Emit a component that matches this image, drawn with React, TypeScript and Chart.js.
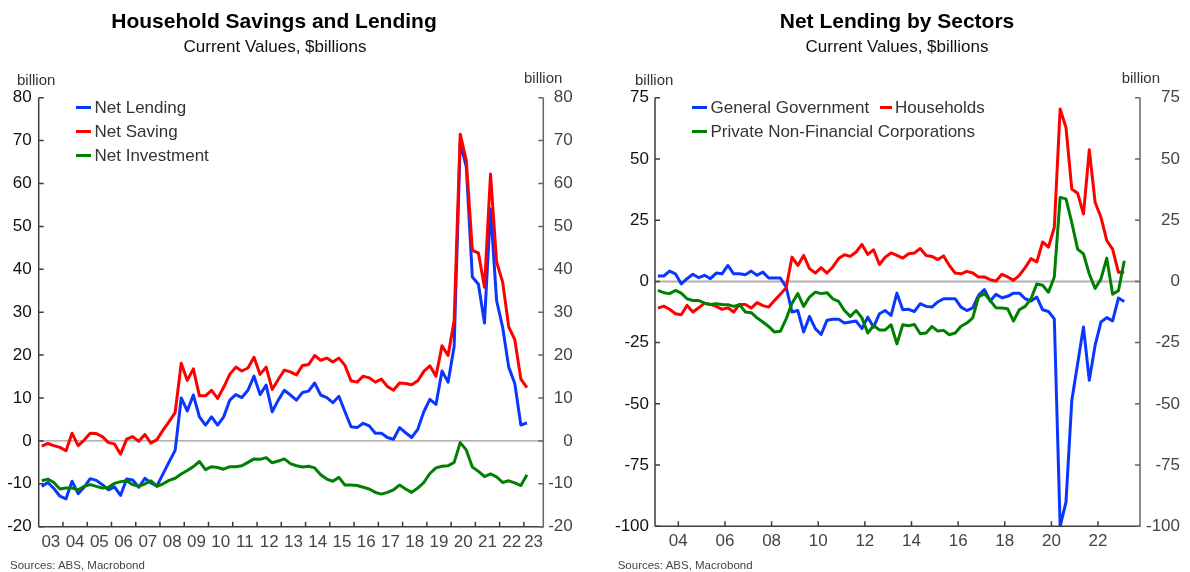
import React, { useEffect, useRef } from "react";
import { Chart, registerables } from "chart.js";

Chart.register(...registerables);

const FONT = "'Liberation Sans', Arial, Helvetica, sans-serif";

// ---------- categories ----------
const FIRST_YEAR = 2003;
const LAST_YEAR = 2023;
const LAST_QUARTER = 1;
const quarters: string[] = [];
for (let y = FIRST_YEAR; y <= LAST_YEAR; y++) {
  for (let q = 1; q <= 4; q++) {
    if (y === LAST_YEAR && q > LAST_QUARTER) break;
    quarters.push(`${y}Q${q}`);
  }
}
const quarterToX = (label: string) => {
  const y = parseInt(label.slice(0, 4), 10);
  const q = parseInt(label.slice(5), 10);
  return y + (q - 0.5) / 4;
};

const X_MIN = 2003;
const X_MAX = 2023.8;

// ---------- left chart: Household Savings and Lending ----------
const netLending = [
  -10.6, -9.7, -11.1, -12.9, -13.5, -9.4, -12.3, -10.8, -8.8, -9.2,
  -10.2, -11.4, -10.7, -12.7, -8.9, -9.1, -10.8, -8.7, -9.8, -10.5,
  -7.7, -4.9, -2.2, 10.0, 7.0, 10.7, 5.6, 3.7, 5.6, 3.7,
  5.6, 9.5, 10.8, 10.1, 11.8, 15.1, 10.8, 13.0, 6.8, 9.5,
  11.8, 10.7, 9.5, 11.3, 11.6, 13.5, 10.7, 10.1, 8.9, 10.4,
  6.8, 3.3, 3.1, 4.1, 3.5, 1.8, 1.8, 0.8, 0.4, 3.1,
  1.9, 0.8, 2.7, 6.8, 9.7, 8.5, 16.3, 13.7, 22.0, 69.5,
  63.9, 38.2, 36.5, 27.5, 54.1, 32.7, 26.5, 17.2, 13.4, 3.7, 4.2,
];
const netSaving = [
  -1.2, -0.6, -1.1, -1.5, -2.3, 1.8, -1.1, 0.2, 1.8, 1.7,
  1.0, -0.4, -0.7, -3.1, 0.4, 1.0, -0.1, 1.5, -0.5, 0.3,
  2.5, 4.5, 6.6, 18.1, 14.1, 16.8, 10.5, 10.5, 11.8, 9.9,
  12.5, 15.5, 17.2, 16.3, 17.0, 19.5, 15.5, 17.2, 12.0, 14.3,
  16.5, 16.1, 15.4, 17.6, 17.8, 19.9, 18.8, 19.3, 18.4, 19.3,
  17.6, 14.0, 13.7, 15.1, 14.7, 13.7, 14.4, 12.7, 11.8, 13.5,
  13.4, 13.1, 14.0, 16.2, 17.5, 15.1, 22.2, 19.9, 28.0, 71.5,
  65.4, 44.4, 43.8, 35.8, 62.2, 41.7, 37.0, 26.6, 23.6, 14.4, 12.4,
];
const netInvestment = [
  -9.3, -8.9, -9.7, -11.2, -11.0, -11.0, -11.4, -10.6, -10.2, -10.6,
  -11.0, -10.8, -9.9, -9.5, -9.3, -10.2, -10.6, -10.0, -9.3, -10.6,
  -10.0, -9.2, -8.7, -7.7, -6.9, -6.0, -4.8, -6.7, -6.0, -6.2,
  -6.6, -6.0, -6.0, -5.8, -5.0, -4.2, -4.3, -3.9, -5.1, -4.7,
  -4.2, -5.3, -5.8, -6.1, -5.9, -6.3, -7.9, -8.9, -9.4, -8.5,
  -10.3, -10.3, -10.4, -10.8, -11.2, -12.0, -12.4, -12.0, -11.4, -10.3,
  -11.2, -12.0, -11.0, -9.7, -7.6, -6.3, -5.9, -5.8, -5.0, -0.4,
  -2.1, -6.1, -7.1, -8.3, -7.7, -8.4, -9.7, -9.3, -9.8, -10.4, -7.9,
];
const leftXLabels = ["03", "04", "05", "06", "07", "08", "09", "10", "11", "12", "13",
  "14", "15", "16", "17", "18", "19", "20", "21", "22", "23"];

// ---------- right chart: Net Lending by Sectors ----------
const generalGovernment = [
  2.2, 2.2, 4.2, 3.1, -1.0, 1.1, 2.9, 1.5, 2.5, 1.1,
  3.4, 3.1, 6.5, 3.1, 3.1, 2.7, 4.2, 2.5, 3.8, 1.4,
  1.4, 1.4, -2.3, -12.5, -11.9, -20.7, -14.3, -19.3, -21.7, -15.9,
  -15.5, -15.5, -17.0, -16.6, -16.2, -19.3, -14.6, -18.7, -13.2, -11.9,
  -13.9, -4.8, -11.6, -11.4, -12.3, -9.1, -10.2, -10.5, -8.4, -7.1,
  -7.1, -7.1, -10.5, -11.9, -10.8, -5.7, -3.3, -8.0, -5.3, -6.7,
  -6.1, -4.8, -4.8, -7.1, -8.0, -6.4, -11.6, -12.3, -15.3, -100,
  -90.1, -48.6, -33.6, -18.6, -40.4, -26.1, -16.6, -14.8, -16.1, -6.8, -8.2,
];
const households = [
  -10.9, -10.1, -11.4, -13.2, -13.6, -9.8, -12.5, -10.8, -8.9, -9.4,
  -10.2, -11.4, -10.8, -12.5, -9.4, -9.4, -10.9, -8.7, -9.9, -10.5,
  -7.8, -5.3, -2.6, 9.9, 6.5, 10.6, 5.2, 3.4, 5.6, 3.4,
  5.9, 9.3, 10.9, 10.2, 12.0, 15.1, 11.0, 12.9, 6.9, 9.9,
  11.6, 10.6, 9.5, 11.3, 11.6, 13.4, 10.6, 10.2, 8.9, 10.4,
  6.5, 3.4, 3.1, 4.1, 3.4, 1.8, 1.8, 0.7, 0.1, 2.9,
  1.8, 0.4, 2.5, 5.6, 9.3, 7.9, 16.1, 14.0, 22.1, 70.4,
  62.9, 37.7, 36.0, 27.5, 53.7, 32.3, 26.2, 16.6, 13.2, 3.7, 3.7,
];
const corporations = [
  -3.7, -4.6, -5.0, -3.7, -4.8, -7.1, -7.8, -7.8, -8.9, -9.4,
  -9.1, -9.4, -9.5, -10.2, -9.5, -12.5, -12.8, -14.9, -16.6, -18.4,
  -20.7, -20.4, -15.3, -8.9, -5.0, -10.2, -6.4, -4.4, -5.0, -4.6,
  -7.1, -8.2, -11.9, -14.3, -11.9, -14.9, -21.1, -18.0, -19.8, -19.8,
  -17.7, -25.5, -17.7, -18.1, -17.6, -21.4, -21.1, -18.4, -20.3, -20.0,
  -21.8, -21.1, -18.3, -17.0, -14.9, -6.4, -5.0, -7.8, -10.8, -10.9,
  -11.2, -16.2, -11.6, -10.2, -7.1, -1.0, -1.6, -4.4, 1.8, 34.3,
  33.7, 24.0, 13.2, 11.2, 3.0, -2.9, 1.0, 9.5, -5.2, -3.8, 8.4,
];
const rightXLabels = ["04", "06", "08", "10", "12", "14", "16", "18", "20", "22"];

const BLUE = "#0a37ff";
const RED = "#ff0000";
const GREEN = "#008000";

const leftSeries = [
  { name: "Net Lending", values: netLending, color: BLUE },
  { name: "Net Saving", values: netSaving, color: RED },
  { name: "Net Investment", values: netInvestment, color: GREEN },
];
const rightSeries = [
  { name: "General Government", values: generalGovernment, color: BLUE },
  { name: "Households", values: households, color: RED },
  { name: "Private Non-Financial Corporations", values: corporations, color: GREEN },
];

const labelYear = (s: string) => 2000 + parseInt(s, 10);

const framePlugin = {
  id: "frame",
  beforeDatasetsDraw(chart: any, _args: any, opts: any) {
    const { ctx, chartArea: a, scales } = chart;
    const y0 = scales.y.getPixelForValue(0);
    ctx.save();
    ctx.strokeStyle = opts.zeroColor;
    ctx.lineWidth = opts.zeroWidth;
    ctx.beginPath();
    ctx.moveTo(a.left, y0);
    ctx.lineTo(a.right, y0);
    ctx.stroke();
    ctx.restore();
  },
  afterDatasetsDraw(chart: any, _args: any, opts: any) {
    const { ctx, chartArea: a, scales } = chart;
    const TL = 5;
    ctx.save();
    ctx.lineWidth = 1.5;
    ctx.strokeStyle = opts.leftColor;
    ctx.beginPath();
    ctx.moveTo(a.left, a.top);
    ctx.lineTo(a.left, a.bottom);
    for (const t of scales.y.ticks) {
      const py = scales.y.getPixelForValue(t.value);
      ctx.moveTo(a.left, py);
      ctx.lineTo(a.left + TL, py);
    }
    ctx.stroke();
    ctx.beginPath();
    ctx.moveTo(a.left, a.bottom);
    ctx.lineTo(a.right, a.bottom);
    for (const v of opts.xTicks) {
      const px = scales.x.getPixelForValue(v);
      ctx.moveTo(px, a.bottom);
      ctx.lineTo(px, a.bottom - TL);
    }
    ctx.stroke();
    ctx.strokeStyle = opts.rightColor;
    ctx.beginPath();
    ctx.moveTo(a.right, a.top);
    ctx.lineTo(a.right, a.bottom + 0.75);
    for (const t of scales.y2.ticks) {
      const py = scales.y2.getPixelForValue(t.value);
      ctx.moveTo(a.right, py);
      ctx.lineTo(a.right - TL, py);
    }
    ctx.stroke();
    ctx.restore();
  },
};

type Cfg = {
  series: { name: string; values: number[]; color: string }[];
  yMin: number;
  yMax: number;
  yStep: number;
  area: { left: number; right: number; top: number; bottom: number };
  rightLabelEdge: number;
  width: number;
  height: number;
  labelPos: number[];
  labels: string[];
  xTicks: number[];
  leftPad: number;
  zeroColor: string;
  zeroWidth: number;
};

function makeConfig(p: Cfg): any {
  const xAxisH = 30;
  const tickFont = { family: FONT, size: 17 };
  const n = p.series.length;
  return {
    type: "line",
    data: {
      datasets: p.series.map((s, i) => ({
        label: s.name,
        data: quarters.map((q, k) => ({ x: quarterToX(q), y: s.values[k] })),
        borderColor: s.color,
        backgroundColor: s.color,
        borderWidth: 3,
        borderJoinStyle: "round",
        borderCapStyle: "butt",
        pointRadius: 0,
        tension: 0,
        fill: false,
        xAxisID: "x",
        yAxisID: "y",
        order: n - i,
      })),
    },
    options: {
      responsive: false,
      animation: false,
      events: [],
      layout: {
        padding: {
          left: 0,
          right: p.width - p.rightLabelEdge,
          top: p.area.top,
          bottom: p.height - p.area.bottom - xAxisH,
        },
      },
      plugins: {
        legend: { display: false },
        tooltip: { enabled: false },
        frame: {
          zeroColor: p.zeroColor,
          zeroWidth: p.zeroWidth,
          leftColor: "#3c3c3c",
          rightColor: "#666666",
          xTicks: p.xTicks,
        },
      },
      scales: {
        x: {
          type: "linear",
          position: "bottom",
          min: X_MIN,
          max: X_MAX,
          grid: { display: false, drawTicks: false },
          border: { display: false },
          afterBuildTicks: (s: any) => {
            s.ticks = p.labelPos.map((v) => ({ value: v }));
          },
          afterFit: (s: any) => {
            s.height = xAxisH;
          },
          ticks: {
            autoSkip: false,
            maxRotation: 0,
            minRotation: 0,
            padding: 5,
            color: "#444",
            font: tickFont,
            callback: (_v: any, i: number) => p.labels[i],
          },
        },
        y: {
          type: "linear",
          position: "left",
          min: p.yMin,
          max: p.yMax,
          grid: { display: false, drawTicks: false },
          border: { display: false },
          afterFit: (s: any) => {
            s.width = p.area.left;
          },
          ticks: { stepSize: p.yStep, padding: p.leftPad, color: "#111", font: tickFont },
        },
        y2: {
          type: "linear",
          position: "right",
          min: p.yMin,
          max: p.yMax,
          grid: { display: false, drawTicks: false },
          border: { display: false },
          afterFit: (s: any) => {
            s.width = p.rightLabelEdge - p.area.right;
          },
          ticks: {
            stepSize: p.yStep,
            padding: 6,
            crossAlign: "far",
            color: "#444",
            font: tickFont,
          },
        },
      },
    },
    plugins: [framePlugin],
  };
}

const W = 595;
const H = 572;

const leftCfg: Cfg = {
  series: leftSeries,
  yMin: -20,
  yMax: 80,
  yStep: 10,
  area: { left: 38.7, right: 543.3, top: 97.7, bottom: 526.7 },
  rightLabelEdge: 572.7,
  width: W,
  height: H,
  labelPos: leftXLabels.map((l) => {
    const y = labelYear(l);
    return y + 1 > X_MAX ? (y + X_MAX) / 2 : y + 0.5;
  }),
  labels: leftXLabels,
  xTicks: leftXLabels.map(labelYear).filter((y) => y > X_MIN),
  leftPad: 7,
  zeroColor: "#9a9a9a",
  zeroWidth: 1.4,
};

const rightCfg: Cfg = {
  series: rightSeries,
  yMin: -100,
  yMax: 75,
  yStep: 25,
  area: { left: 60, right: 545, top: 97.7, bottom: 526.3 },
  rightLabelEdge: 585,
  width: W,
  height: H,
  labelPos: rightXLabels.map(labelYear),
  labels: rightXLabels,
  xTicks: rightXLabels.map(labelYear),
  leftPad: 6,
  zeroColor: "#b0b0b0",
  zeroWidth: 2,
};

function Txt(props: {
  x: number;
  base: number;
  size: number;
  bold?: boolean;
  color?: string;
  center?: boolean;
  children: React.ReactNode;
}) {
  const { x, base, size, bold, color, center, children } = props;
  return (
    <div
      style={{
        position: "absolute",
        left: x,
        top: base - 0.8465 * size,
        fontSize: size,
        lineHeight: `${size}px`,
        fontWeight: bold ? 700 : 400,
        color: color || "#000",
        whiteSpace: "nowrap",
        fontFamily: FONT,
        transform: center ? "translateX(-50%)" : undefined,
      }}
    >
      {children}
    </div>
  );
}

function LegendItem(props: { x: number; lineW: number; base: number; color: string; name: string }) {
  const { x, lineW, base, color, name } = props;
  return (
    <>
      <div
        style={{
          position: "absolute",
          left: x,
          top: base - 7.3,
          width: lineW,
          height: 3,
          background: color,
        }}
      />
      <Txt x={x + lineW + 3.5} base={base} size={17} color="#333">
        {name}
      </Txt>
    </>
  );
}

export default function App() {
  const leftRef = useRef<HTMLCanvasElement>(null);
  const rightRef = useRef<HTMLCanvasElement>(null);

  useEffect(() => {
    const c1 = new Chart(leftRef.current as HTMLCanvasElement, makeConfig(leftCfg));
    const c2 = new Chart(rightRef.current as HTMLCanvasElement, makeConfig(rightCfg));
    return () => {
      c1.destroy();
      c2.destroy();
    };
  }, []);

  return (
    <div
      style={{
        position: "absolute",
        left: 0,
        top: 0,
        width: 1190,
        height: 572,
        background: "#fff",
        overflow: "hidden",
        fontFamily: FONT,
      }}
    >
      <canvas
        ref={leftRef}
        width={W}
        height={H}
        style={{ position: "absolute", left: 0, top: 0, width: W, height: H }}
      />
      <canvas
        ref={rightRef}
        width={W}
        height={H}
        style={{ position: "absolute", left: W, top: 0, width: W, height: H }}
      />

      {/* left chart texts */}
      <Txt x={274} base={28} size={21} bold center>
        Household Savings and Lending
      </Txt>
      <Txt x={275} base={52.5} size={17} center color="#111">
        Current Values, $billions
      </Txt>
      <Txt x={17} base={85} size={15} color="#333">
        billion
      </Txt>
      <Txt x={524} base={82.7} size={15} color="#333">
        billion
      </Txt>
      {leftSeries.map((s, i) => (
        <LegendItem key={s.name} x={76} lineW={15} base={113.3 + i * 24.2} color={s.color} name={s.name} />
      ))}
      <Txt x={10} base={570} size={11.5} color="#444">
        Sources: ABS, Macrobond
      </Txt>

      {/* right chart texts */}
      <Txt x={897} base={28} size={21} bold center>
        Net Lending by Sectors
      </Txt>
      <Txt x={897} base={52.5} size={17} center color="#111">
        Current Values, $billions
      </Txt>
      <Txt x={635} base={85} size={15} color="#333">
        billion
      </Txt>
      <Txt x={1121.7} base={82.7} size={15} color="#333">
        billion
      </Txt>
      <LegendItem x={692} lineW={15} base={113.3} color={rightSeries[0].color} name={rightSeries[0].name} />
      <LegendItem x={879.5} lineW={12} base={113.3} color={rightSeries[1].color} name={rightSeries[1].name} />
      <LegendItem x={692} lineW={15} base={137.3} color={rightSeries[2].color} name={rightSeries[2].name} />
      <Txt x={617.7} base={570} size={11.5} color="#444">
        Sources: ABS, Macrobond
      </Txt>
    </div>
  );
}
